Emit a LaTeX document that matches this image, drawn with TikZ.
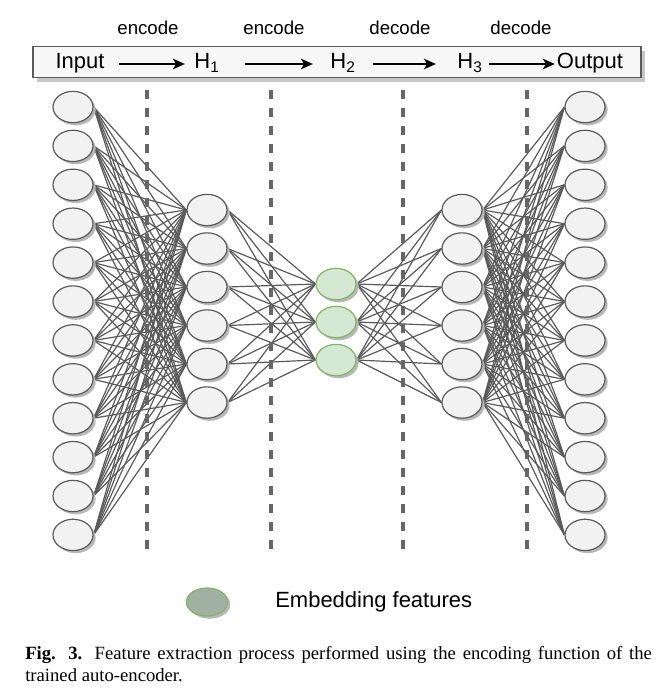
\documentclass[tikz,border=0pt]{standalone}
\usepackage{fontspec}
\setmainfont{Liberation Sans}
\newfontfamily\capfont{Liberation Serif}
\usetikzlibrary{shapes.geometric, arrows.meta, positioning, shadows, backgrounds}

\definecolor{nodegray}{HTML}{F2F2F2}
\definecolor{linegray}{HTML}{5A5A5A}
\definecolor{embfill}{HTML}{D5E8D4}
\definecolor{embdraw}{HTML}{82B366}
\definecolor{legfill}{HTML}{A2B2A2}

\begin{document}
\begin{tikzpicture}[
    x=0.75pt, y=-0.75pt,
    neuron/.style={draw=linegray, ellipse, fill=nodegray, minimum width=30pt, minimum height=23.5pt, inner sep=0pt, line width=0.9pt, drop shadow={shadow xshift=2pt, shadow yshift=-2pt, fill=black!28, opacity=1}},
    embed/.style={neuron, draw=embdraw, fill=embfill},
    link/.style={draw=linegray, line width=0.9pt},
    divider/.style={draw=black!60, line width=2.6pt, dash pattern=on 7pt off 6.5pt},
    bartext/.style={inner sep=0pt, text height=12pt, text depth=5pt, font=\fontsize{16.5}{19}\selectfont},
    steplabel/.style={font=\fontsize{14}{16}\selectfont},
    arrow/.style={-{Stealth[length=9pt, width=8pt, inset=2.5pt]}, line width=1.1pt}
]
\useasboundingbox (0,0) rectangle (668,700);

% Top bar
\node (bar) [draw=linegray, fill=black!3, line width=0.9pt, minimum width=456pt, minimum height=23.25pt, drop shadow={shadow xshift=3pt, shadow yshift=-3pt, fill=black!22, opacity=1}] at (337,62) {};
\node (in) [bartext] at (80,64) {Input};
\node (h1) [bartext] at (207,64) {H\textsubscript{1}};
\node (h2) [bartext] at (343,64) {H\textsubscript{2}};
\node (h3) [bartext] at (470,64) {H\textsubscript{3}};
\node (out) [bartext] at (590,64) {Output};

\node (enc1) [steplabel] at (148,28) {encode};
\node (enc2) [steplabel] at (274,28) {encode};
\node (dec1) [steplabel] at (400,28) {decode};
\node (dec2) [steplabel] at (521,28) {decode};

\draw [arrow, shorten <=11pt, shorten >=7pt] (in) -- (h1);
\draw [arrow, shorten <=19pt, shorten >=13pt] (h1) -- (h2);
\draw [arrow, shorten <=13pt, shorten >=16pt] (h2) -- (h3);
\draw [arrow, shorten <=5pt, shorten >=1.5pt] (h3) -- (out);

% Layer separators
\foreach \x in {147,271,403,527}
    \draw [divider] (\x,90) -- (\x,555);

% Neurons
\foreach \i in {1,...,12} {
    \node (a\i) [neuron] at (73,{107+38.9*(\i-1)}) {};
    \node (e\i) [neuron] at (585,{107+38.9*(\i-1)}) {};
}
\foreach \i in {1,...,6} {
    \node (b\i) [neuron] at (207,{210+38.5*(\i-1)}) {};
    \node (d\i) [neuron] at (462,{210+38.5*(\i-1)}) {};
}
\foreach \i in {1,2,3}
    \node (c\i) [embed] at (336,{284+38*(\i-1)}) {};

% Connections
\begin{scope}[on background layer]
\foreach \i in {1,...,12}
    \foreach \j in {1,...,6} {
        \draw [link] (a\i.east) -- (b\j.west);
        \draw [link] (d\j.east) -- (e\i.west);
    }
\foreach \i in {1,...,6}
    \foreach \j in {1,2,3} {
        \draw [link] (b\i.east) -- (c\j.west);
        \draw [link] (c\j.east) -- (d\i.west);
    }
\end{scope}

% Legend
\node (leg) [embed, fill=legfill, minimum width=31pt, minimum height=21pt] at (207,602) {};
\node (legtext) [font=\fontsize{16.5}{19}\selectfont, anchor=west, inner sep=0pt] at (275,602) {Embedding features};

% Caption
\node (caption) [anchor=north west, inner sep=0pt, text width=470pt, align=justify, font=\capfont\fontsize{14}{16.5}\selectfont] at (25,646) {\textbf{Fig. 3.} Feature extraction process performed using the encoding function of the\linebreak trained auto-encoder.};

\end{tikzpicture}
\end{document}
